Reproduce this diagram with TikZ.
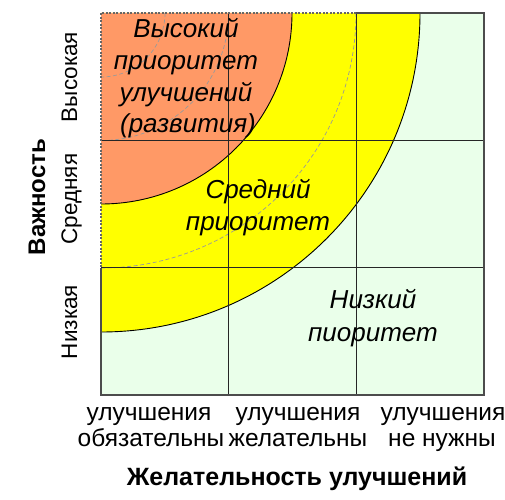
\documentclass[tikz,border=0pt]{standalone}
\usepackage{fontspec}
\setmainfont{Liberation Sans}
\definecolor{zonehigh}{RGB}{255,153,102}
\definecolor{zonemid}{RGB}{255,255,0}
\definecolor{zonelow}{RGB}{234,255,234}
\begin{document}
\begin{tikzpicture}[x=1pt,y=1pt,
  gridline/.style={draw=black!85, line width=1.3pt},
  frameline/.style={draw=black!70, line width=1.3pt},
  frameguide/.style={draw=black!60, line width=1.1pt, dash pattern=on 2pt off 1.5pt},
  zoneedge/.style={draw=black, line width=0.9pt},
  guide/.style={draw=black!40, line width=0.7pt, dash pattern=on 4pt off 2.5pt},
  zonetext/.style={font=\fontsize{26}{30}\selectfont\itshape, anchor=base, inner sep=0pt},
  sidetext/.style={font=\fontsize{22.5}{26}\selectfont, anchor=base, inner sep=0pt, rotate=90},
  axistext/.style={font=\fontsize{24}{29}\selectfont\bfseries, anchor=base, inner sep=0pt},
  bottext/.style={font=\fontsize{24.5}{29}\selectfont, anchor=base, inner sep=0pt}]
\useasboundingbox (0,0) rectangle (505,499);
% corners
\coordinate (o) at (101,486);
\coordinate (br) at (484,104);
% background
\fill[zonelow] (101,104) rectangle (484,486);
% zones
\fill[zonemid] (o) -- (420,486) arc[start angle=0, end angle=-90, radius=319pt] -- cycle;
\draw[zoneedge] (420,486) arc[start angle=0, end angle=-90, radius=319pt];
\fill[zonehigh] (o) -- (292,486) arc[start angle=0, end angle=-90, radius=191pt] -- cycle;
\draw[zoneedge] (292,486) arc[start angle=0, end angle=-90, radius=191pt];
% guide arcs
\draw[guide] (165,486) arc[start angle=0, end angle=-90, radius=64pt];
\draw[guide] (228.5,486) arc[start angle=0, end angle=-90, radius=127.5pt];
\draw[guide] (356,486) arc[start angle=0, end angle=-90, radius=255pt];
% grid
\coordinate (v1t) at (228.7,486); \coordinate (v1b) at (228.7,104);
\coordinate (v2t) at (356.3,486); \coordinate (v2b) at (356.3,104);
\coordinate (h1l) at (101,358.7); \coordinate (h1r) at (484,358.7);
\coordinate (h2l) at (101,231.3); \coordinate (h2r) at (484,231.3);
\draw[gridline] (v1t) -- (v1b);
\draw[gridline] (v2t) -- (v2b);
\draw[gridline] (h1l) -- (h1r);
\draw[gridline] (h2l) -- (h2r);
% frame
\draw[frameline] (h2l) -- (101,104) -- (br) -- (484,486) -- (v2t);
\draw[frameguide] (v2t) -- (o) -- (h2l);
% zone texts
\node[zonetext] (hi1) at (186,461) {Высокий};
\node[zonetext] (hi2) at (186,429) {приоритет};
\node[zonetext] (hi3) at (186,398) {улучшений};
\node[zonetext] (hi4) at (188,367) {(развития)};
\node[zonetext] (mid1) at (258,301) {Средний};
\node[zonetext] (mid2) at (258,269) {приоритет};
\node[zonetext] (low1) at (373,191) {Низкий};
\node[zonetext] (low2) at (373,158) {пиоритет};
% side labels
\node[sidetext] (sHigh) at (77,422) {Высокая};
\node[sidetext] (sMid) at (77,300) {Средняя};
\node[sidetext] (sLow) at (77,177) {Низкая};
\node[axistext, rotate=90] (yaxis) at (45,302) {Важность};
% bottom labels
\node[bottext] (b1a) at (149,79) {улучшения};
\node[bottext] (b1b) at (151,53) {обязательны};
\node[bottext] (b2a) at (298,79) {улучшения};
\node[bottext] (b2b) at (298,53) {желательны};
\node[bottext] (b3a) at (443,79) {улучшения};
\node[bottext] (b3b) at (442,53) {не нужны};
\node[axistext, font=\fontsize{25}{29}\selectfont\bfseries] (xaxis) at (297,14) {Желательность улучшений};
\end{tikzpicture}
\end{document}
